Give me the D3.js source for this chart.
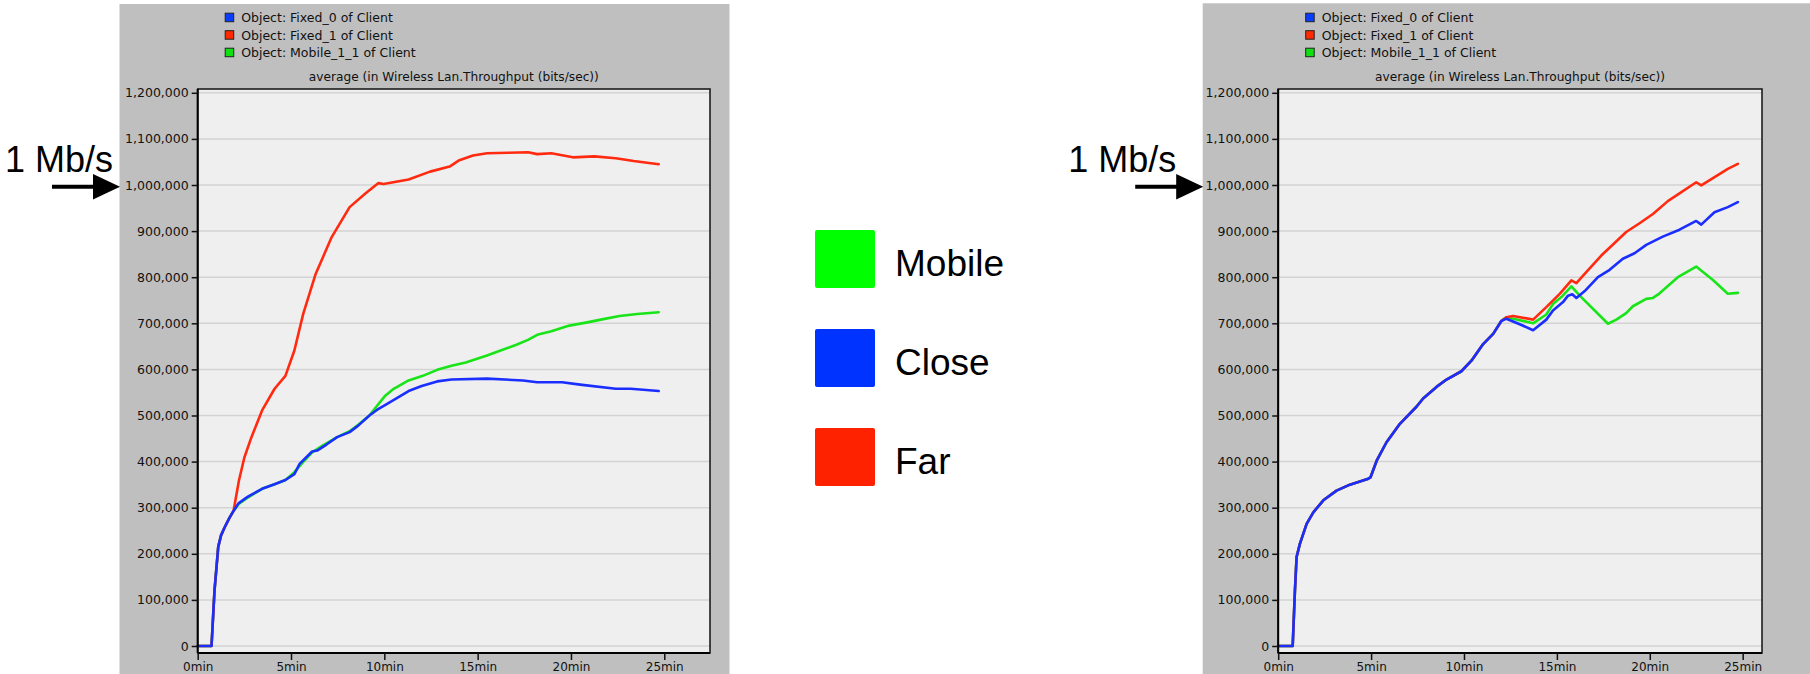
<!DOCTYPE html>
<html>
<head>
<meta charset="utf-8">
<script src="https://cdn.jsdelivr.net/npm/d3@7"></script>
<style>
  body { margin: 0; background: #fff; }
  svg { display: block; }
</style>
</head>
<body>
<svg id="chart" width="1810" height="674"></svg>
<script>
// ---------------- DATA ----------------
const seriesNames = ["Object: Fixed_0 of Client", "Object: Fixed_1 of Client", "Object: Mobile_1_1 of Client"];
const bigLegendLabels = ["Mobile", "Close", "Far"];
const yTicks = [0, 100000, 200000, 300000, 400000, 500000, 600000, 700000, 800000, 900000, 1000000, 1100000, 1200000];
const xTicks = [0, 5, 10, 15, 20, 25];
const yDomain = [0, 1200000];
const leftXMax = 27.45;   // minutes at right edge of left plot
const rightXMax = 26.04;  // minutes at right edge of right plot
const annotationText = "1 Mb/s";
const annotationValue = 1000000;
const titleText = "average (in Wireless Lan.Throughput (bits/sec))";

// Left chart: [minutes, bits/sec]
const leftClose = [[0,0],[0.74,0],[0.9,120000],[1.1,215000],[1.25,240000],[1.44,257000],[1.7,278000],[1.92,293000],
  [2.2,310000],[2.69,324000],[3.45,341000],[4.12,351000],[4.7,360000],[5.18,373000],[5.46,395000],[6.13,422000],
  [6.4,424000],[6.9,437000],[7.47,453000],[8.14,464000],[8.6,478000],[9.2,500000],[9.6,512000],[10.15,525000],
  [11.3,553000],[12.0,564000],[12.83,574000],[13.6,578000],[15.5,580000],[17.43,576000],[18.19,572000],
  [19.53,572000],[20.49,567000],[22.4,558000],[23.2,558000],[24.7,553000]];
const leftFar = [[0,0],[0.74,0],[0.9,120000],[1.1,215000],[1.25,240000],[1.44,257000],[1.7,278000],[1.92,293000],
  [2.21,359000],[2.5,409000],[2.88,453000],[3.45,511000],[4.12,558000],[4.7,586000],[5.18,641000],[5.65,720000],
  [6.32,807000],[7.18,887000],[8.14,952000],[9.0,982000],[9.67,1004000],[9.96,1002000],[11.3,1012000],
  [12.45,1029000],[13.5,1040000],[13.98,1053000],[14.75,1064000],[15.5,1069000],[16.66,1070000],[17.7,1071000],
  [18.19,1067000],[18.95,1069000],[20.1,1060000],[21.25,1062000],[22.4,1058000],[23.36,1052000],[24.7,1045000]];
const leftMobile = [[0,0],[0.74,0],[0.9,120000],[1.1,215000],[1.25,240000],[1.44,257000],[1.7,278000],[1.92,293000],
  [2.2,308000],[2.69,322000],[3.45,341000],[4.12,351000],[4.7,360000],[5.18,377000],[5.56,395000],[6.13,420000],
  [6.71,435000],[7.47,453000],[8.14,466000],[8.6,480000],[9.2,500000],[9.47,514000],[10.05,543000],[10.5,558000],
  [11.3,576000],[12.06,586000],[12.83,599000],[13.6,608000],[14.36,615000],[15.5,630000],[16.3,642000],
  [17.04,653000],[17.7,664000],[18.19,675000],[18.95,683000],[19.91,695000],[20.87,702000],[21.6,708000],
  [22.6,716000],[23.55,720000],[24.7,724000]];

// Right chart: [minutes, bits/sec]
const rightClose = [[0,0],[0.78,0],[0.9,120000],[0.99,193000],[1.17,222000],[1.53,265000],[1.89,290000],[2.43,316000],
  [3.14,337000],[3.86,350000],[4.85,363000],[4.97,366000],[5.3,402000],[5.83,442000],[6.55,482000],[7.44,519000],
  [7.8,537000],[8.52,562000],[9.06,578000],[9.86,596000],[10.4,619000],[11.03,655000],[11.57,677000],[12.01,705000],
  [12.28,710000],[13.0,698000],[13.72,685000],[14.43,708000],[14.79,728000],[15.33,746000],[15.6,760000],
  [15.83,763000],[16.05,755000],[16.5,770000],[17.21,800000],[17.84,816000],[18.55,840000],[19.18,852000],
  [19.81,870000],[20.7,888000],[21.6,903000],[22.5,922000],[22.77,914000],[23.48,941000],[24.2,952000],[24.74,963000]];
const rightFar = [[0,0],[0.78,0],[0.9,120000],[0.99,193000],[1.17,222000],[1.53,265000],[1.89,290000],[2.43,316000],
  [3.14,337000],[3.86,350000],[4.85,363000],[4.97,366000],[5.3,402000],[5.83,442000],[6.55,482000],[7.44,519000],
  [7.8,537000],[8.52,562000],[9.06,578000],[9.86,596000],[10.4,619000],[11.03,655000],[11.57,677000],[12.01,705000],
  [12.28,713000],[12.64,716000],[13.72,708000],[14.43,735000],[15.15,764000],[15.78,793000],[16.05,787000],
  [16.58,811000],[17.39,847000],[18.02,871000],[18.73,898000],[19.45,917000],[20.17,937000],[20.97,965000],
  [21.6,982000],[22.5,1006000],[22.77,999000],[23.4,1015000],[24.2,1035000],[24.74,1046000]];
const rightMobile = [[0,0],[0.78,0],[0.9,120000],[0.99,193000],[1.17,222000],[1.53,265000],[1.89,290000],[2.43,316000],
  [3.14,337000],[3.86,350000],[4.85,363000],[4.97,366000],[5.3,402000],[5.83,442000],[6.55,482000],[7.44,519000],
  [7.8,537000],[8.52,562000],[9.06,578000],[9.86,596000],[10.4,619000],[11.03,655000],[11.57,677000],[12.01,705000],
  [12.28,713000],[12.64,710000],[13.72,700000],[14.43,719000],[14.79,742000],[15.24,757000],[15.78,780000],
  [16.23,760000],[17.75,699000],[18.2,708000],[18.73,722000],[19.09,737000],[19.81,753000],[20.17,755000],
  [20.53,765000],[21.51,800000],[22.5,823000],[23.4,794000],[24.2,764000],[24.74,766000]];

// ---------------- STYLE ----------------
const lineColors = { close: "#1a2eff", far: "#ff2a10", mobile: "#18e418" };
const legendSwatch = ["#0a3cff", "#ff2a00", "#10e010"];
const bigSwatch = ["#00ff00", "#0033ff", "#ff2200"];
const smallFont = "'DejaVu Sans', sans-serif";
const bigFont = "'Liberation Sans', Arial, sans-serif";

const svg = d3.select("#chart");

function drawPanel(cfg) {
  const g = svg.append("g");
  // grey panel
  g.append("rect").attr("x", cfg.panel[0]).attr("y", cfg.panel[1])
    .attr("width", cfg.panel[2] - cfg.panel[0]).attr("height", cfg.panel[3] - cfg.panel[1])
    .attr("fill", "#bfbfbf");

  const x = d3.scaleLinear().domain([0, cfg.xMax]).range([cfg.plot[0], cfg.plot[2]]);
  const y = d3.scaleLinear().domain(yDomain).range([646, 92.8]);

  // plot background
  g.append("rect").attr("x", cfg.plot[0]).attr("y", cfg.plot[1])
    .attr("width", cfg.plot[2] - cfg.plot[0]).attr("height", cfg.plot[3] - cfg.plot[1])
    .attr("fill", "#efefef");

  // gridlines
  g.append("g").selectAll("line").data(yTicks).join("line")
    .attr("x1", cfg.plot[0]).attr("x2", cfg.plot[2])
    .attr("y1", d => y(d)).attr("y2", d => y(d))
    .attr("stroke", "#d3d3d3").attr("stroke-width", 1.5);

  // series lines
  const line = d3.line().x(d => x(d[0])).y(d => y(d[1]));
  const order = [["mobile", cfg.mobile], ["far", cfg.far], ["close", cfg.close]];
  order.forEach(([k, data]) => {
    g.append("path").datum(data).attr("d", line).attr("fill", "none")
      .attr("stroke", lineColors[k]).attr("stroke-width", 2.6)
      .attr("stroke-linejoin", "round").attr("stroke-linecap", "round");
  });

  // frame
  g.append("rect").attr("x", cfg.plot[0]).attr("y", cfg.plot[1])
    .attr("width", cfg.plot[2] - cfg.plot[0]).attr("height", cfg.plot[3] - cfg.plot[1])
    .attr("fill", "none").attr("stroke", "#111").attr("stroke-width", 1.5);
  g.append("line").attr("x1", cfg.plot[0]).attr("x2", cfg.plot[0]).attr("y1", cfg.plot[1]).attr("y2", cfg.plot[3])
    .attr("stroke", "#000").attr("stroke-width", 2);
  g.append("line").attr("x1", cfg.plot[0]).attr("x2", cfg.plot[2]).attr("y1", cfg.plot[3]).attr("y2", cfg.plot[3])
    .attr("stroke", "#000").attr("stroke-width", 2);

  // axes
  const yAxis = g.append("g").attr("transform", `translate(${cfg.plot[0]},0)`)
    .call(d3.axisLeft(y).tickValues(yTicks).tickFormat(d3.format(",")).tickSize(6).tickPadding(3));
  const xAxis = g.append("g").attr("transform", `translate(0,${cfg.plot[3]})`)
    .call(d3.axisBottom(x).tickValues(xTicks).tickFormat(d => d + "min").tickSize(7).tickPadding(2));
  [yAxis, xAxis].forEach(a => {
    a.select(".domain").remove();
    a.selectAll(".tick line").attr("stroke", "#111").attr("stroke-width", 1.5);
    a.selectAll(".tick text").attr("fill", "#111").style("font-family", smallFont).style("font-size", "12.5px");
  });
  xAxis.selectAll(".tick text").style("font-size", "12px");

  // title
  g.append("text").attr("x", (cfg.plot[0] + cfg.plot[2]) / 2).attr("y", 81)
    .attr("text-anchor", "middle").attr("fill", "#111")
    .style("font-family", smallFont).style("font-size", "12.2px").text(titleText);

  // legend
  const lg = g.append("g");
  seriesNames.forEach((name, i) => {
    const by = 22 + i * 17.5;
    lg.append("rect").attr("x", cfg.plot[0] + 27.5).attr("y", by - 8.8).attr("width", 8.5).attr("height", 8.5)
      .attr("fill", legendSwatch[i]).attr("stroke", "#222").attr("stroke-width", 1);
    lg.append("text").attr("x", cfg.plot[0] + 43.5).attr("y", by).attr("fill", "#111")
      .style("font-family", smallFont).style("font-size", "12.5px").text(name);
  });

  // annotation "1 Mb/s" with arrow
  const ay = y(annotationValue) + 1.7;
  const tip = cfg.panel[0] + 0.5;
  g.append("text").attr("x", cfg.annoX).attr("y", 171.7).attr("fill", "#000")
    .style("font-family", bigFont).style("font-size", "36px").text(annotationText);
  g.append("line").attr("x1", tip - 68).attr("x2", tip - 22).attr("y1", ay).attr("y2", ay)
    .attr("stroke", "#000").attr("stroke-width", 4);
  g.append("path").attr("d", `M${tip},${ay} L${tip - 27},${ay - 12.8} L${tip - 27},${ay + 12.8} Z`).attr("fill", "#000");
}

drawPanel({ panel: [119.5, 4, 729.5, 674], plot: [197.7, 89, 710, 653], xMax: leftXMax,
  close: leftClose, far: leftFar, mobile: leftMobile, annoX: 5 });
drawPanel({ panel: [1202.7, 3.3, 1810, 674], plot: [1278.2, 89, 1762, 653], xMax: rightXMax,
  close: rightClose, far: rightFar, mobile: rightMobile, annoX: 1068.3 });

// big central legend
const big = svg.append("g");
bigLegendLabels.forEach((lab, i) => {
  const top = 230 + i * 99;
  big.append("rect").attr("x", 815).attr("y", top).attr("width", 60).attr("height", 58).attr("rx", 2)
    .attr("fill", bigSwatch[i]);
  big.append("text").attr("x", 895).attr("y", top + 45.5).attr("fill", "#000")
    .style("font-family", bigFont).style("font-size", "37px").text(lab);
});
</script>
</body>
</html>
